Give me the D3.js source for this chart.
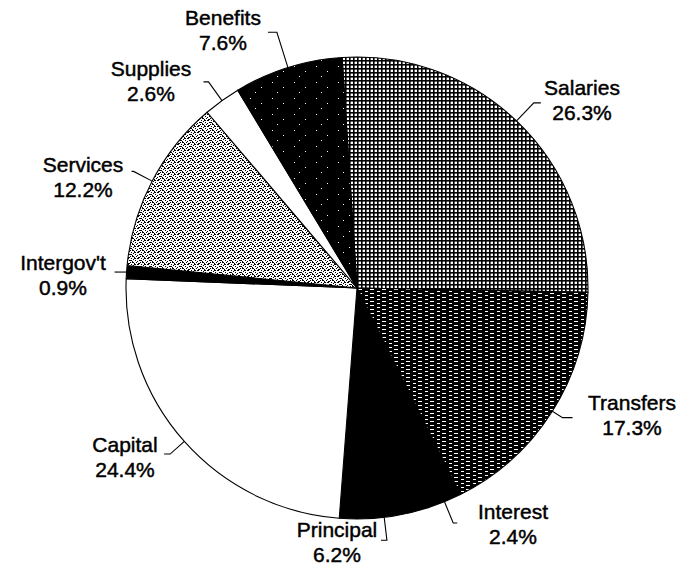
<!DOCTYPE html>
<html>
<head>
<meta charset="utf-8">
<script src="https://cdn.jsdelivr.net/npm/d3@7"></script>
<style>
  body { margin: 0; background: #fff; }
  svg { display: block; }
  .lbl { font-family: "Liberation Sans", Arial, Helvetica, sans-serif; font-size: 21px; fill: #000; stroke: #000; stroke-width: 0.45px; }
  .leader { fill: none; stroke: #000; stroke-width: 1.1px; }
</style>
</head>
<body>
<div id="chart"></div>
<script>
// Budget shares, clockwise from the top
var categories = ["Salaries", "Transfers", "Interest", "Principal", "Capital", "Intergov't", "Services", "Supplies", "Benefits"];
var shares = [26.3, 17.3, 2.4, 6.2, 24.4, 0.9, 12.2, 2.6, 7.6];
var fills = ["url(#grid)", "url(#darkdash)", "#000", "#000", "#fff", "#000", "url(#speckle)", "#fff", "url(#blackdots)"];

// label placement: e = leader length out from the rim, tick = horizontal end, x/y = text centre and first baseline
var labelLayout = {
    "Salaries":   { e: 25, tick: 7,   x: 582, y: 95 },
    "Transfers":  { e: 12, tick: 10,  x: 632, y: 410 },
    "Interest":   { e: 23, tick: 4,   x: 513, y: 519 },
    "Principal":  { e: 23, tick: -6,  x: 337, y: 537 },
    "Capital":    { e: 19, tick: -6,  x: 125, y: 452 },
    "Intergov't": { e: 0,  tick: -12, x: 63,  y: 270 },
    "Services":   { e: 21, tick: -2,  x: 83,  y: 172 },
    "Supplies":   { e: 23, tick: -5,  x: 151, y: 76 },
    "Benefits":   { e: 37, tick: -9,  x: 223, y: 25 }
};

var width = 684, height = 565;
var cx = 357, cy = 288, radius = 231;
var start = -3.7 * Math.PI / 180;
var lineGap = 24.5;

var svg = d3.select("#chart")
    .append("svg")
    .attr("width", width)
    .attr("height", height);

var defs = svg.append("defs");

// crosshatch grid
var grid = defs.append("pattern").attr("id", "grid")
    .attr("patternUnits", "userSpaceOnUse").attr("width", 4).attr("height", 4);
grid.append("rect").attr("width", 4).attr("height", 4).attr("fill", "#fff");
grid.append("rect").attr("width", 4).attr("height", 1.6).attr("fill", "#000");
grid.append("rect").attr("width", 1.6).attr("height", 4).attr("fill", "#000");

// black with short white dashes
var dd = defs.append("pattern").attr("id", "darkdash")
    .attr("patternUnits", "userSpaceOnUse").attr("width", 12).attr("height", 4);
dd.append("rect").attr("width", 12).attr("height", 4).attr("fill", "#000");
[[1, 1, 4], [8, 3, 3]].forEach(function(d) {
    dd.append("rect").attr("x", d[0]).attr("y", d[1]).attr("width", d[2]).attr("height", 1).attr("fill", "#fff");
});

// light speckle
var sp = defs.append("pattern").attr("id", "speckle")
    .attr("patternUnits", "userSpaceOnUse").attr("width", 10).attr("height", 6);
sp.append("rect").attr("width", 10).attr("height", 6).attr("fill", "#fff");
[[0, 0, 2], [4, 0, 1], [7, 0, 2], [6, 1, 1], [2, 2, 3], [8, 2, 1], [0, 3, 1], [5, 3, 1],
 [3, 4, 1], [5, 4, 2], [9, 4, 1], [1, 5, 2], [7, 5, 1]].forEach(function(d) {
    sp.append("rect").attr("x", d[0]).attr("y", d[1]).attr("width", d[2]).attr("height", 1).attr("fill", "#000");
});

// black with sparse white dots
var bd = defs.append("pattern").attr("id", "blackdots")
    .attr("patternUnits", "userSpaceOnUse").attr("width", 22).attr("height", 16);
bd.append("rect").attr("width", 22).attr("height", 16).attr("fill", "#000");
[[3, 2], [14, 7], [8, 12]].forEach(function(d) {
    bd.append("rect").attr("x", d[0]).attr("y", d[1]).attr("width", 1).attr("height", 1).attr("fill", "#fff");
});

var data = categories.map(function(c, i) {
    return { name: c, value: shares[i], fill: fills[i] };
});

var pie = d3.pie()
    .sort(null)
    .value(function(d) { return d.value; })
    .startAngle(start)
    .endAngle(start + 2 * Math.PI);

var arc = d3.arc().innerRadius(0).outerRadius(radius);

var g = svg.append("g").attr("transform", "translate(" + cx + "," + cy + ")");

var arcs = pie(data);

g.selectAll("path.slice")
    .data(arcs)
    .enter().append("path")
    .attr("class", "slice")
    .attr("d", arc)
    .attr("fill", function(d) { return d.data.fill; })
    .attr("stroke", "#000")
    .attr("stroke-width", 1.1)
    .attr("stroke-linejoin", "round");

var fmt = d3.format(".1f");

function polar(a, r) {
    return [r * Math.sin(a), -r * Math.cos(a)];
}

arcs.forEach(function(d) {
    var lay = labelLayout[d.data.name];
    var mid = (d.startAngle + d.endAngle) / 2;
    var p0 = polar(mid, radius);
    var p1 = polar(mid, radius + lay.e);
    var p2 = [p1[0] + lay.tick, p1[1]];
    g.append("path")
        .attr("class", "leader")
        .attr("d", d3.line()([p0, p1, p2]));

    var t = svg.append("text")
        .attr("class", "lbl")
        .attr("text-anchor", "middle");
    t.append("tspan").attr("x", lay.x).attr("y", lay.y).text(d.data.name);
    t.append("tspan").attr("x", lay.x).attr("y", lay.y + lineGap).text(fmt(d.data.value) + "%");
});
</script>
</body>
</html>
